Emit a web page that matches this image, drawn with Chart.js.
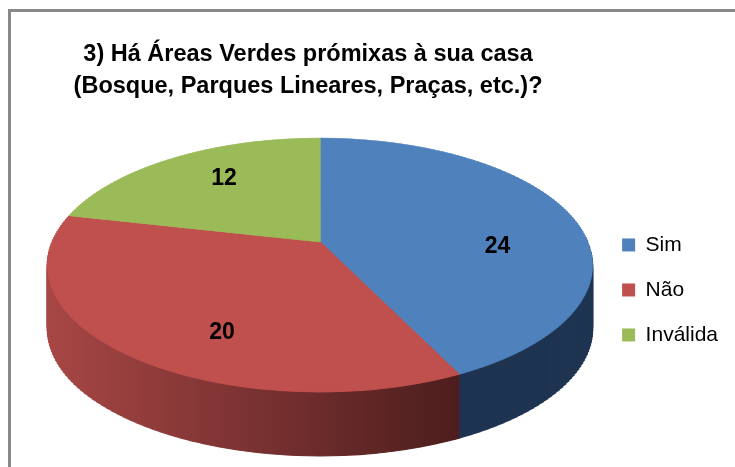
<!DOCTYPE html>
<html><head><meta charset="utf-8">
<script src="https://cdn.jsdelivr.net/npm/chart.js@4.4.1/dist/chart.umd.min.js"></script>
<style>
html,body{margin:0;padding:0;background:#fff;overflow:hidden;width:735px;height:467px}
#frame{position:absolute;left:8px;top:9px;width:900px;height:700px;border:3px solid #898989;box-sizing:border-box}
#c{position:absolute;left:0;top:0}
</style></head><body>
<div id="frame"></div>
<canvas id="c" width="735" height="467"></canvas>
<script>
// ---- data ----
const categories = ['Sim', 'Não', 'Inválida'];
const values = [24, 20, 12];
const titleLines = ['3) Há Áreas Verdes prómixas à sua casa', '(Bosque, Parques Lineares, Praças, etc.)?'];

// ---- styles ----
const topColors = ['#4F81BD', '#C0504D', '#9BBB59'];
const sideSolid = ['#1F3552', '#7B3231', '#5E7535'];
const NARROW = "'Liberation Sans Narrow', 'Arial Narrow', 'Liberation Sans', Arial, sans-serif";

// perspective layout of the 3D disc (screen px)
const P = {cx: 320, cy: 242, A: 122.8, B: 267.6, k: 0.181, depth: 64};
// label placement: radial fraction and vertical shift
const labelLayout = [[0.70, 23], [0.542, 34], [0.626, -8]];

function projY(v) { return P.cy - P.A * v / (1 + P.k * v); }
function invV(Y) { const t = Y - P.cy; return -t / (P.A + P.k * t); }

function makeStrips(h, R, vmax) {
  const out = [];
  const yTop = Math.floor(projY(1)) - 1, yBot = Math.ceil(projY(-1)) + 1;
  for (let y = yTop; y < yBot; y += h) {
    const vm = invV(y + h / 2);
    if (vm > vmax) continue;
    const den = 1 + P.k * vm;
    const sx = P.B / (R * den), sy = P.A / (den * den * R);
    const ty = projY(vm) + sy * vm * R;
    out.push({y, h, vm, sx, sy, ty});
  }
  return out;
}

const pie3d = {
  id: 'pie3d',
  beforeDatasetsDraw(chart) {
    const ctx = chart.ctx;
    const arcs = chart.getDatasetMeta(0).data;
    if (!arcs.length) return false;
    const ax = arcs[0].x, ay = arcs[0].y, R = arcs[0].outerRadius;
    const W = chart.width;
    const drawStrip = (s, d, styleFor) => {
      ctx.save();
      ctx.beginPath(); ctx.rect(0, s.y + d, W, s.h); ctx.clip();
      ctx.translate(P.cx, s.ty + d); ctx.scale(s.sx, s.sy); ctx.translate(-ax, -ay);
      arcs.forEach((arc, i) => {
        const el = Object.create(arc);
        el.options = Object.assign({}, arc.options, styleFor(i, s));
        el.draw(ctx);
      });
      ctx.restore();
    };
    // side wall
    const sideStrips = makeStrips(3, R, 0.05);
    sideStrips.forEach(s => {
      const lx = X => (X - P.cx) / s.sx + ax;
      const g = ctx.createLinearGradient(lx(45), 0, lx(462), 0);
      g.addColorStop(0, '#A84745');
      g.addColorStop(0.45, '#7E3433');
      g.addColorStop(1, '#4C1D1D');
      s.grad = g;
    });
    const sideStyle = (i, s) => {
      const c = i === 1 ? s.grad : sideSolid[i];
      return {backgroundColor: c, borderColor: c, borderWidth: 1};
    };
    for (let d = P.depth; d >= 1; d--) {
      sideStrips.forEach(s => drawStrip(s, d, sideStyle));
    }
    // top face
    const topStrips = makeStrips(2, R, 2);
    topStrips.forEach(s => drawStrip(s, 0, (i) => ({backgroundColor: topColors[i], borderColor: topColors[i], borderWidth: 1})));
    // value labels
    ctx.save();
    ctx.font = 'bold 23px ' + NARROW;
    ctx.fillStyle = '#000';
    ctx.textAlign = 'center';
    ctx.textBaseline = 'middle';
    arcs.forEach((arc, i) => {
      const mid = (arc.startAngle + arc.endAngle) / 2;
      const f = labelLayout[i][0];
      const u = Math.cos(mid) * f, v = -Math.sin(mid) * f;
      const X = P.cx + P.B * u / (1 + P.k * v);
      const Y = P.cy - P.A * v / (1 + P.k * v) + labelLayout[i][1];
      ctx.fillText(String(values[i]), X, Y);
    });
    ctx.restore();
    return false;
  }
};

Chart.defaults.font.family = "'Liberation Sans', Arial, sans-serif";
new Chart(document.getElementById('c'), {
  type: 'pie',
  data: {
    labels: categories,
    datasets: [{data: values, backgroundColor: topColors, borderWidth: 0}]
  },
  options: {
    responsive: false,
    devicePixelRatio: 1,
    animation: false,
    events: [],
    layout: {padding: {top: 12, left: 18, right: 7, bottom: 0}},
    plugins: {
      tooltip: {enabled: false},
      title: {
        display: true,
        text: titleLines,
        fullSize: false,
        color: '#000',
        font: {family: NARROW, size: 23.5, weight: 'bold', lineHeight: 1.36},
        padding: {top: 27, bottom: 10}
      },
      legend: {
        position: 'right',
        fullSize: false,
        labels: {
          boxWidth: 13, boxHeight: 13, padding: 24,
          color: '#000',
          font: {size: 21}
        }
      }
    }
  },
  plugins: [pie3d]
});
</script>
</body></html>
